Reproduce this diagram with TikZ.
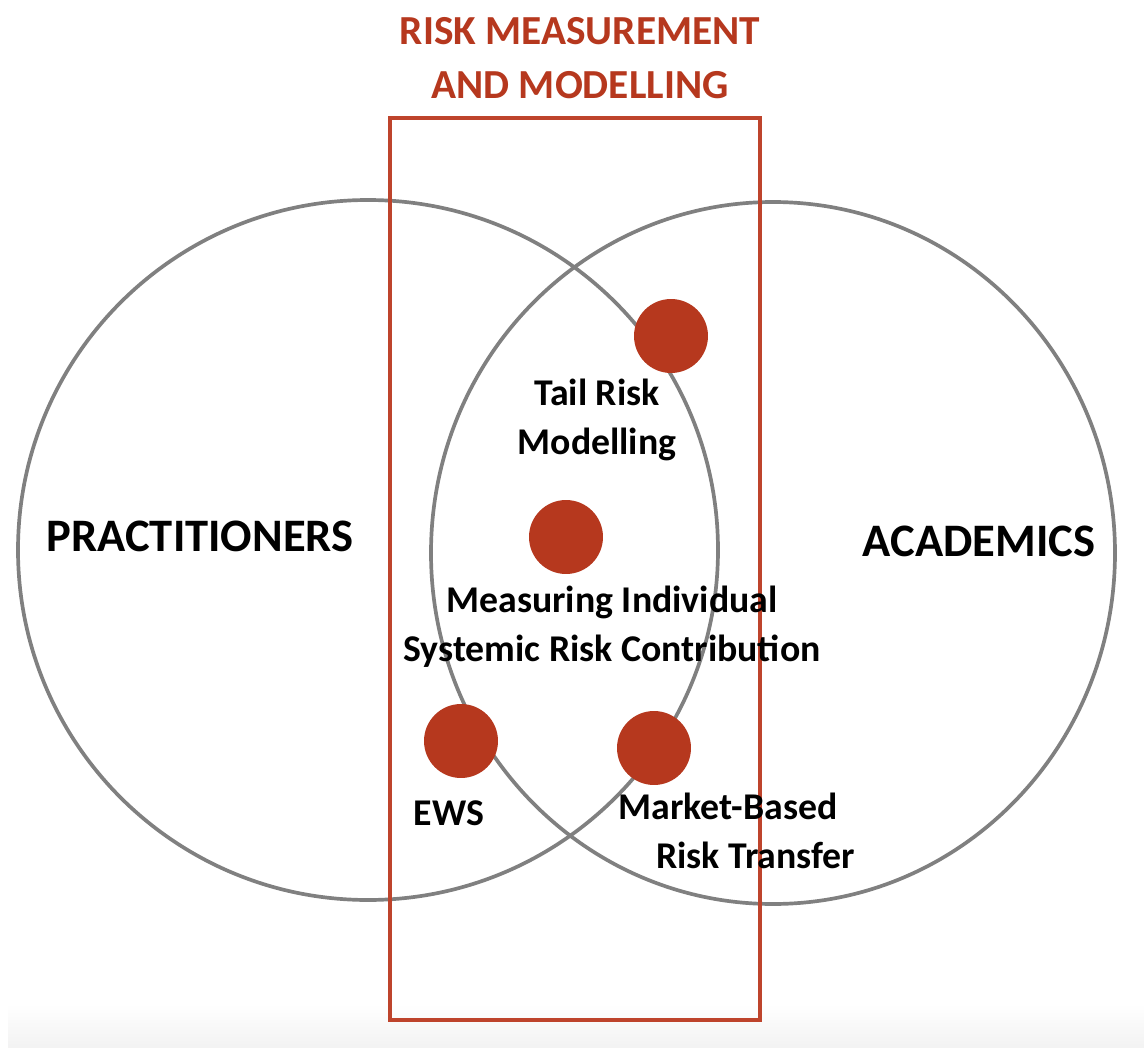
\documentclass[tikz,border=0pt]{standalone}
\usepackage{fontspec}
\setmainfont{Carlito}
\usetikzlibrary{positioning}
\definecolor{riskRed}{RGB}{182,56,30}
\definecolor{frameRed}{RGB}{190,68,44}
\definecolor{ringGray}{RGB}{128,128,128}

\tikzset{
  vennring/.style={draw=ringGray, line width=2.1pt},
  riskdot/.style={circle, fill=riskRed, inner sep=0pt, minimum size=1.48cm},
  lbl/.style={font=\bfseries\fontsize{21.5}{28}\selectfont, align=center, inner sep=0pt},
  biglbl/.style={font=\bfseries\fontsize{26.5}{30}\selectfont, inner sep=0pt},
  titlelbl/.style={font=\bfseries\fontsize{23.5}{31}\selectfont, text=riskRed, align=center, inner sep=0pt}
}

\begin{document}
\begin{tikzpicture}[x=0.02cm, y=-0.02cm]

% Canvas and faint grey band at the bottom
\useasboundingbox (0,0) rectangle (1144,1048);
\fill[white] (0,0) rectangle (1144,1048);
\shade[top color=white, bottom color=black!5] (8,1004) rectangle (1144,1048);

% Title
\node[titlelbl] (title) at (580,58) {RISK MEASUREMENT\\AND MODELLING};

% The two communities
\draw[vennring] (368,550) circle (350);
\draw[vennring] (773,553) ellipse (342 and 351);

% Risk measurement frame
\draw[frameRed, line width=2.1pt] (390,118) rectangle (760,1020);

\node[biglbl] (pract) at (200,536) {PRACTITIONERS};
\node[biglbl] (acad) at (979,541) {ACADEMICS};

% Dots and their topics
\node[riskdot] (tail) at (671,336) {};
\node[riskdot] (indiv) at (566,537) {};
\node[riskdot] (ews) at (461,741) {};
\node[riskdot] (mbrt) at (654,748) {};

\node[lbl] (taillbl) at (597,420) {Tail Risk\\Modelling};
\node[lbl] (indivlbl) at (612,627) {Measuring Individual\\Systemic Risk Contribution};
\node[lbl] (ewslbl) at (449,813) {EWS};
\node[lbl, align=left] (mbrtlbl) at (737,831) {Market-Based\\\hspace*{0.75cm}Risk Transfer};

\end{tikzpicture}
\end{document}
